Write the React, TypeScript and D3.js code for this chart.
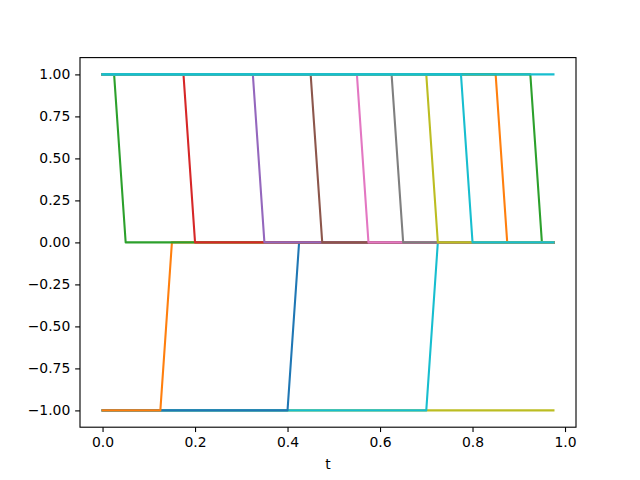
import { useRef, useEffect } from "react";
import * as d3 from "d3";

// sample times
const t = [
  0, 0.025, 0.05, 0.075, 0.1, 0.125, 0.15, 0.175, 0.2, 0.225,
  0.25, 0.275, 0.3, 0.325, 0.35, 0.375, 0.4, 0.425, 0.45, 0.475,
  0.5, 0.525, 0.55, 0.575, 0.6, 0.625, 0.65, 0.675, 0.7, 0.725,
  0.75, 0.775, 0.8, 0.825, 0.85, 0.875, 0.9, 0.925, 0.95, 0.975,
];

const xTicks = [0, 0.2, 0.4, 0.6, 0.8, 1.0];
const yTicks = [-1, -0.75, -0.5, -0.25, 0, 0.25, 0.5, 0.75, 1];

// series, in the order they are drawn
const flatLow = [
  -1, -1, -1, -1, -1, -1, -1, -1, -1, -1,
  -1, -1, -1, -1, -1, -1, -1, -1, -1, -1,
  -1, -1, -1, -1, -1, -1, -1, -1, -1, -1,
  -1, -1, -1, -1, -1, -1, -1, -1, -1, -1,
];
const cyanUp = [
  -1, -1, -1, -1, -1, -1, -1, -1, -1, -1,
  -1, -1, -1, -1, -1, -1, -1, -1, -1, -1,
  -1, -1, -1, -1, -1, -1, -1, -1, -1, 0,
  0, 0, 0, 0, 0, 0, 0, 0, 0, 0,
];
const blueUp = [
  -1, -1, -1, -1, -1, -1, -1, -1, -1, -1,
  -1, -1, -1, -1, -1, -1, -1, 0, 0, 0,
  0, 0, 0, 0, 0, 0, 0, 0, 0, 0,
  0, 0, 0, 0, 0, 0, 0, 0, 0, 0,
];
const orangeUp = [
  -1, -1, -1, -1, -1, -1, 0, 0, 0, 0,
  0, 0, 0, 0, 0, 0, 0, 0, 0, 0,
  0, 0, 0, 0, 0, 0, 0, 0, 0, 0,
  0, 0, 0, 0, 0, 0, 0, 0, 0, 0,
];
const orangeDown = [
  1, 1, 1, 1, 1, 1, 1, 1, 1, 1,
  1, 1, 1, 1, 1, 1, 1, 1, 1, 1,
  1, 1, 1, 1, 1, 1, 1, 1, 1, 1,
  1, 1, 1, 1, 1, 0, 0, 0, 0, 0,
];
const greenDownLate = [
  1, 1, 1, 1, 1, 1, 1, 1, 1, 1,
  1, 1, 1, 1, 1, 1, 1, 1, 1, 1,
  1, 1, 1, 1, 1, 1, 1, 1, 1, 1,
  1, 1, 1, 1, 1, 1, 1, 1, 0, 0,
];
const greenDown = [
  1, 1, 0, 0, 0, 0, 0, 0, 0, 0,
  0, 0, 0, 0, 0, 0, 0, 0, 0, 0,
  0, 0, 0, 0, 0, 0, 0, 0, 0, 0,
  0, 0, 0, 0, 0, 0, 0, 0, 0, 0,
];
const redDown = [
  1, 1, 1, 1, 1, 1, 1, 1, 0, 0,
  0, 0, 0, 0, 0, 0, 0, 0, 0, 0,
  0, 0, 0, 0, 0, 0, 0, 0, 0, 0,
  0, 0, 0, 0, 0, 0, 0, 0, 0, 0,
];
const purpleDown = [
  1, 1, 1, 1, 1, 1, 1, 1, 1, 1,
  1, 1, 1, 1, 0, 0, 0, 0, 0, 0,
  0, 0, 0, 0, 0, 0, 0, 0, 0, 0,
  0, 0, 0, 0, 0, 0, 0, 0, 0, 0,
];
const brownDown = [
  1, 1, 1, 1, 1, 1, 1, 1, 1, 1,
  1, 1, 1, 1, 1, 1, 1, 1, 1, 0,
  0, 0, 0, 0, 0, 0, 0, 0, 0, 0,
  0, 0, 0, 0, 0, 0, 0, 0, 0, 0,
];
const pinkDown = [
  1, 1, 1, 1, 1, 1, 1, 1, 1, 1,
  1, 1, 1, 1, 1, 1, 1, 1, 1, 1,
  1, 1, 1, 0, 0, 0, 0, 0, 0, 0,
  0, 0, 0, 0, 0, 0, 0, 0, 0, 0,
];
const grayDown = [
  1, 1, 1, 1, 1, 1, 1, 1, 1, 1,
  1, 1, 1, 1, 1, 1, 1, 1, 1, 1,
  1, 1, 1, 1, 1, 1, 0, 0, 0, 0,
  0, 0, 0, 0, 0, 0, 0, 0, 0, 0,
];
const oliveDown = [
  1, 1, 1, 1, 1, 1, 1, 1, 1, 1,
  1, 1, 1, 1, 1, 1, 1, 1, 1, 1,
  1, 1, 1, 1, 1, 1, 1, 1, 1, 0,
  0, 0, 0, 0, 0, 0, 0, 0, 0, 0,
];
const cyanDown = [
  1, 1, 1, 1, 1, 1, 1, 1, 1, 1,
  1, 1, 1, 1, 1, 1, 1, 1, 1, 1,
  1, 1, 1, 1, 1, 1, 1, 1, 1, 1,
  1, 1, 0, 0, 0, 0, 0, 0, 0, 0,
];
const flatHigh = [
  1, 1, 1, 1, 1, 1, 1, 1, 1, 1,
  1, 1, 1, 1, 1, 1, 1, 1, 1, 1,
  1, 1, 1, 1, 1, 1, 1, 1, 1, 1,
  1, 1, 1, 1, 1, 1, 1, 1, 1, 1,
];

const series = [
  flatLow, cyanUp, blueUp, orangeUp, orangeDown, greenDownLate, greenDown,
  redDown, purpleDown, brownDown, pinkDown, grayDown, oliveDown, cyanDown, flatHigh,
];

function drawChart(svgRef: { current: SVGSVGElement | null }) {
  const width = 640,
    height = 480;
  const left = 80,
    right = 576,
    top = 57.6,
    bottom = 427.2;
  const font = "'DejaVu Sans', sans-serif";
  const fontSize = 13.9;
  const tick = 4.86;
  const palette = d3.schemeCategory10;
  // palette slot for each series above
  const colorIdx = [8, 9, 0, 1, 1, 2, 2, 3, 4, 5, 6, 7, 8, 9, 9];

  let svg = d3.select(svgRef.current);
  svg.selectAll("*").remove();
  svg.attr("width", width).attr("height", height).attr("viewBox", `0 0 ${width} ${height}`);

  const xPad = (d3.max(t)! - d3.min(t)!) * 0.05;
  const x = d3.scaleLinear()
    .domain([d3.min(t)! - xPad, d3.max(t)! + xPad])
    .range([left, right]);
  const y = d3.scaleLinear()
    .domain([-1.1, 1.1])
    .range([bottom, top]);

  const line = d3.line<number>()
    .x((d, i) => x(t[i]))
    .y(d => y(d));

  svg.append("g")
    .selectAll("path")
    .data(series)
    .join("path")
    .attr("d", d => line(d))
    .attr("fill", "none")
    .attr("stroke", (d, i) => palette[colorIdx[i]])
    .attr("stroke-width", 2.08)
    .attr("stroke-linejoin", "round")
    .attr("stroke-linecap", "square");

  const xAxis = svg.append("g")
    .attr("transform", `translate(0,${bottom})`)
    .call(d3.axisBottom(x).tickValues(xTicks).tickFormat(d3.format(".1f")).tickSize(tick).tickPadding(tick));
  const yAxis = svg.append("g")
    .attr("transform", `translate(${left},0)`)
    .call(d3.axisLeft(y).tickValues(yTicks).tickFormat(d3.format(".2f")).tickSize(tick).tickPadding(tick));

  [xAxis, yAxis].forEach(a => {
    a.select(".domain").remove();
    a.selectAll(".tick line").attr("stroke", "#000").attr("stroke-width", 1.11);
    a.selectAll("text")
      .attr("fill", "#000")
      .style("font-family", font)
      .style("font-size", `${fontSize}px`);
  });
  xAxis.selectAll("text").attr("dy", "0.76em");

  // frame
  svg.append("rect")
    .attr("x", left)
    .attr("y", top)
    .attr("width", right - left)
    .attr("height", bottom - top)
    .attr("fill", "none")
    .attr("stroke", "#000")
    .attr("stroke-width", 1.11);

  svg.append("text")
    .attr("x", (left + right) / 2)
    .attr("y", 469)
    .attr("text-anchor", "middle")
    .style("font-family", font)
    .style("font-size", `${fontSize}px`)
    .text("t");
}

export default function App() {
  const svg = useRef<SVGSVGElement>(null);
  useEffect(() => {
    document.body.style.margin = "0";
    drawChart(svg);
  }, [svg]);

  return <svg ref={svg} style={{ display: "block", background: "#fff" }} />;
}
